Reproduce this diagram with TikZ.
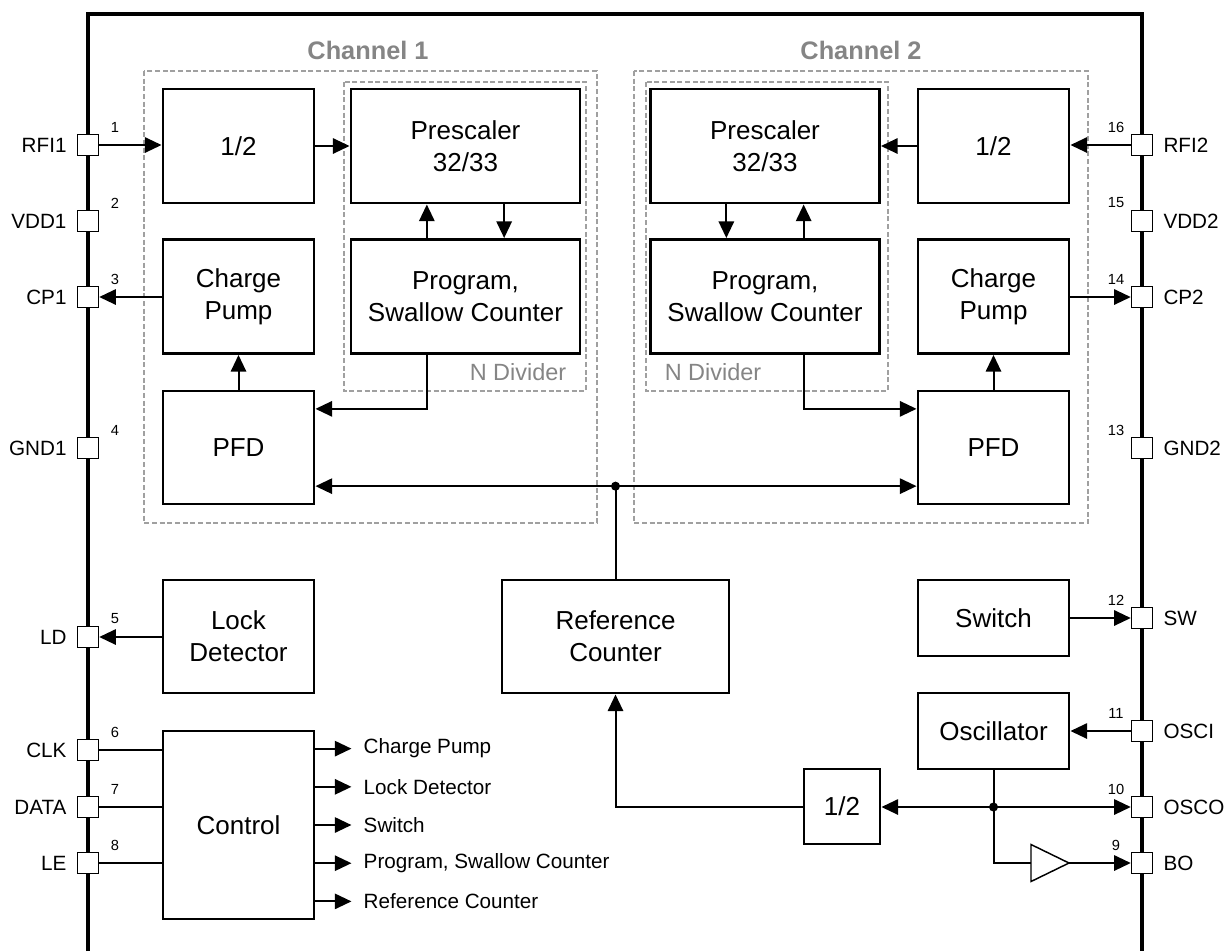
\documentclass[tikz,border=0pt]{standalone}
\usepackage{fontspec}
\setmainfont{Liberation Sans}
\usetikzlibrary{arrows.meta,positioning,calc}
\definecolor{ink}{HTML}{000000}
\definecolor{grpline}{HTML}{A0A0A0}
\definecolor{grptext}{HTML}{858585}

\tikzset{
  blk/.style 2 args={draw=ink,line width=2.2pt,fill=white,inner sep=0pt,align=center,
    minimum width=#1*0.75pt,minimum height=#2*0.75pt,font=\fontsize{19.5}{24}\selectfont},
  chip/.style={draw=ink,line width=2.5pt},
  pin/.style={draw=ink,fill=white,line width=1.1pt,inner sep=0pt,minimum size=15.75pt},
  pinlbl/.style={inner xsep=7.5pt,inner ysep=0pt,font=\fontsize{15.5}{18}\selectfont},
  pinnum/.style={inner sep=0pt,font=\fontsize{11}{12}\selectfont},
  sig/.style={draw=ink,line width=1.5pt},
  dot/.style={circle,fill=ink,inner sep=0pt,minimum size=6.8pt},
  grpbox/.style={draw=grpline,line width=0.8pt,dash pattern=on 3.75pt off 2pt},
  grptitle/.style={text=grptext,font=\fontsize{19}{22}\selectfont\bfseries},
  grplbl/.style={text=grptext,font=\fontsize{17.6}{20}\selectfont},
  outlbl/.style={anchor=west,inner xsep=9pt,inner ysep=0pt,font=\fontsize{15.5}{18}\selectfont},
  bufline/.style={draw=ink,line width=1.1pt}
}

\begin{document}
\begin{tikzpicture}[x=0.75pt,y=-0.75pt,>={Triangle[length=12.5pt,width=11.5pt]}]
  \useasboundingbox (0,0) rectangle (1231,951);
  % channel frames
  \draw[grpbox] (144,71) rectangle (597,523);
  \draw[grpbox] (634,71) rectangle (1088,523);
  \draw[grpbox] (344,82) rectangle (586,391);
  \draw[grpbox] (646,82) rectangle (888,391);
  \node[grptitle] (ch1) at (368,50) {Channel 1};
  \node[grptitle] (ch2) at (861,50) {Channel 2};
  \node[grplbl] (ndiv1) at (518,372) {N Divider};
  \node[grplbl] (ndiv2) at (713,372) {N Divider};
  % chip outline
  \draw[chip] (88,951) -- (88,14) -- (1142,14) -- (1142,951);

  % blocks
  \node[blk={151}{114}] (half1) at (238.5,146) {1/2};
  \node[blk={151}{114}] (cp1) at (238.5,296.5) {Charge\\Pump};
  \node[blk={151}{113}] (pfd1) at (238.5,447.5) {PFD};
  \node[blk={229}{114}] (pre1) at (465.5,146) {Prescaler\\32/33};
  \node[blk={229}{114}] (prg1) at (465.5,296.5) {Program,\\Swallow Counter};
  \node[blk={229}{114}] (pre2) at (765,146) {Prescaler\\32/33};
  \node[blk={229}{114}] (prg2) at (765,296.5) {Program,\\Swallow Counter};
  \node[blk={151}{114}] (half2) at (993.5,146) {1/2};
  \node[blk={151}{114}] (cp2) at (993.5,296.5) {Charge\\Pump};
  \node[blk={151}{113}] (pfd2) at (993.5,447.5) {PFD};
  \node[blk={151}{113}] (lock) at (238.5,636.5) {Lock\\Detector};
  \node[blk={227}{113}] (ref) at (615.5,636.5) {Reference\\Counter};
  \node[blk={151}{76}] (sw) at (993.5,618) {Switch};
  \node[blk={151}{76}] (osc) at (993.5,731) {Oscillator};
  \node[blk={151}{188}] (ctrl) at (238.5,825) {Control};
  \node[blk={76}{75}] (half3) at (842,806.5) {1/2};

  % pins
  \foreach \y/\nm/\n in {145/RFI1/1,221/VDD1/2,297/CP1/3,448/GND1/4,637/LD/5,750/CLK/6,807/DATA/7,863/LE/8}{
    \node[pin,label={[pinlbl]left:\nm}] (p\n) at (88,\y) {};
    \node[pinnum] (n\n) at ([shift={(27,-18)}]p\n.center) {\n};
  }
  \foreach \y/\nm/\n in {863/BO/9,807/OSCO/10,731/OSCI/11,618/SW/12,448/GND2/13,297/CP2/14,221/VDD2/15,145/RFI2/16}{
    \node[pin,label={[pinlbl]right:\nm}] (p\n) at (1142,\y) {};
    \node[pinnum] (n\n) at ([shift={(-26,-18)}]p\n.center) {\n};
  }

  % channel 1
  \draw[sig,->] (p1.east) -- (half1.west |- p1);
  \draw[sig,->] (half1.east) -- (pre1.west);
  \draw[sig,->] (cp1.west |- p3) -- (p3.east);
  \draw[sig,->] (pfd1.north) -- (cp1.south);
  \coordinate (a1) at ($(pre1.south west)!1/3!(pre1.south east)$);
  \coordinate (b1) at ($(pre1.south west)!2/3!(pre1.south east)$);
  \draw[sig,->] (prg1.north -| a1) -- (a1);
  \draw[sig,->] (b1) -- (prg1.north -| b1);
  \draw[sig,->] (prg1.south -| a1) |- ($(pfd1.north east)!1/6!(pfd1.south east)$);

  % channel 2
  \draw[sig,->] (p16.west) -- (half2.east |- p16);
  \draw[sig,->] (half2.west) -- (pre2.east);
  \draw[sig,->] (cp2.east |- p14) -- (p14.west);
  \draw[sig,->] (pfd2.north) -- (cp2.south);
  \coordinate (a2) at ($(pre2.south west)!1/3!(pre2.south east)$);
  \coordinate (b2) at ($(pre2.south west)!2/3!(pre2.south east)$);
  \draw[sig,->] (a2) -- (prg2.north -| a2);
  \draw[sig,->] (prg2.north -| b2) -- (b2);
  \draw[sig,->] (prg2.south -| b2) |- ($(pfd2.north west)!1/6!(pfd2.south west)$);

  % reference bus
  \coordinate (bus1) at ($(pfd1.north east)!5/6!(pfd1.south east)$);
  \node[dot] (jref) at (ref.north |- bus1) {};
  \draw[sig,->] (jref.center) -- (bus1);
  \draw[sig,->] (jref.center) -- (pfd2.west |- bus1);
  \draw[sig] (ref.north) -- (jref.center);

  % lock detector, control
  \draw[sig,->] (lock.west |- p5) -- (p5.east);
  \foreach \n in {6,7,8}
    \draw[sig] (p\n.east) -- (ctrl.west |- p\n);
  \foreach \t/\txt [count=\i] in {0.1/Charge Pump,0.3/Lock Detector,0.5/Switch,
      0.7/{Program, Swallow Counter},0.9/Reference Counter}{
    \coordinate (co\i) at ($(ctrl.north east)!\t!(ctrl.south east)$);
    \node[outlbl] (out\i) at ([xshift=27pt]co\i) {\txt};
    \draw[sig,->] (co\i) -- (out\i.west);
  }

  % switch, oscillator
  \draw[sig,->] (sw.east |- p12) -- (p12.west);
  \draw[sig,->] (p11.west) -- (osc.east |- p11);
  \node[dot] (josc) at (osc.south |- p10) {};
  \draw[sig] (osc.south) -- (josc.center);
  \draw[sig,->] (josc.center) -- (p10.west);
  \draw[sig,->] (josc.center) -- (half3.east |- p10);
  \coordinate (bufin) at (1031,863);
  \coordinate (bufout) at (1069,863);
  \draw[bufline] (bufin) -- ++(0,-18.5) -- (bufout) -- ($(bufin)+(0,18.5)$) -- cycle;
  \draw[sig] (josc.center) |- (bufin);
  \draw[sig,->] (bufout) -- (p9.west);
  \draw[sig,->] (half3.west) -| (ref.south);
\end{tikzpicture}
\end{document}
